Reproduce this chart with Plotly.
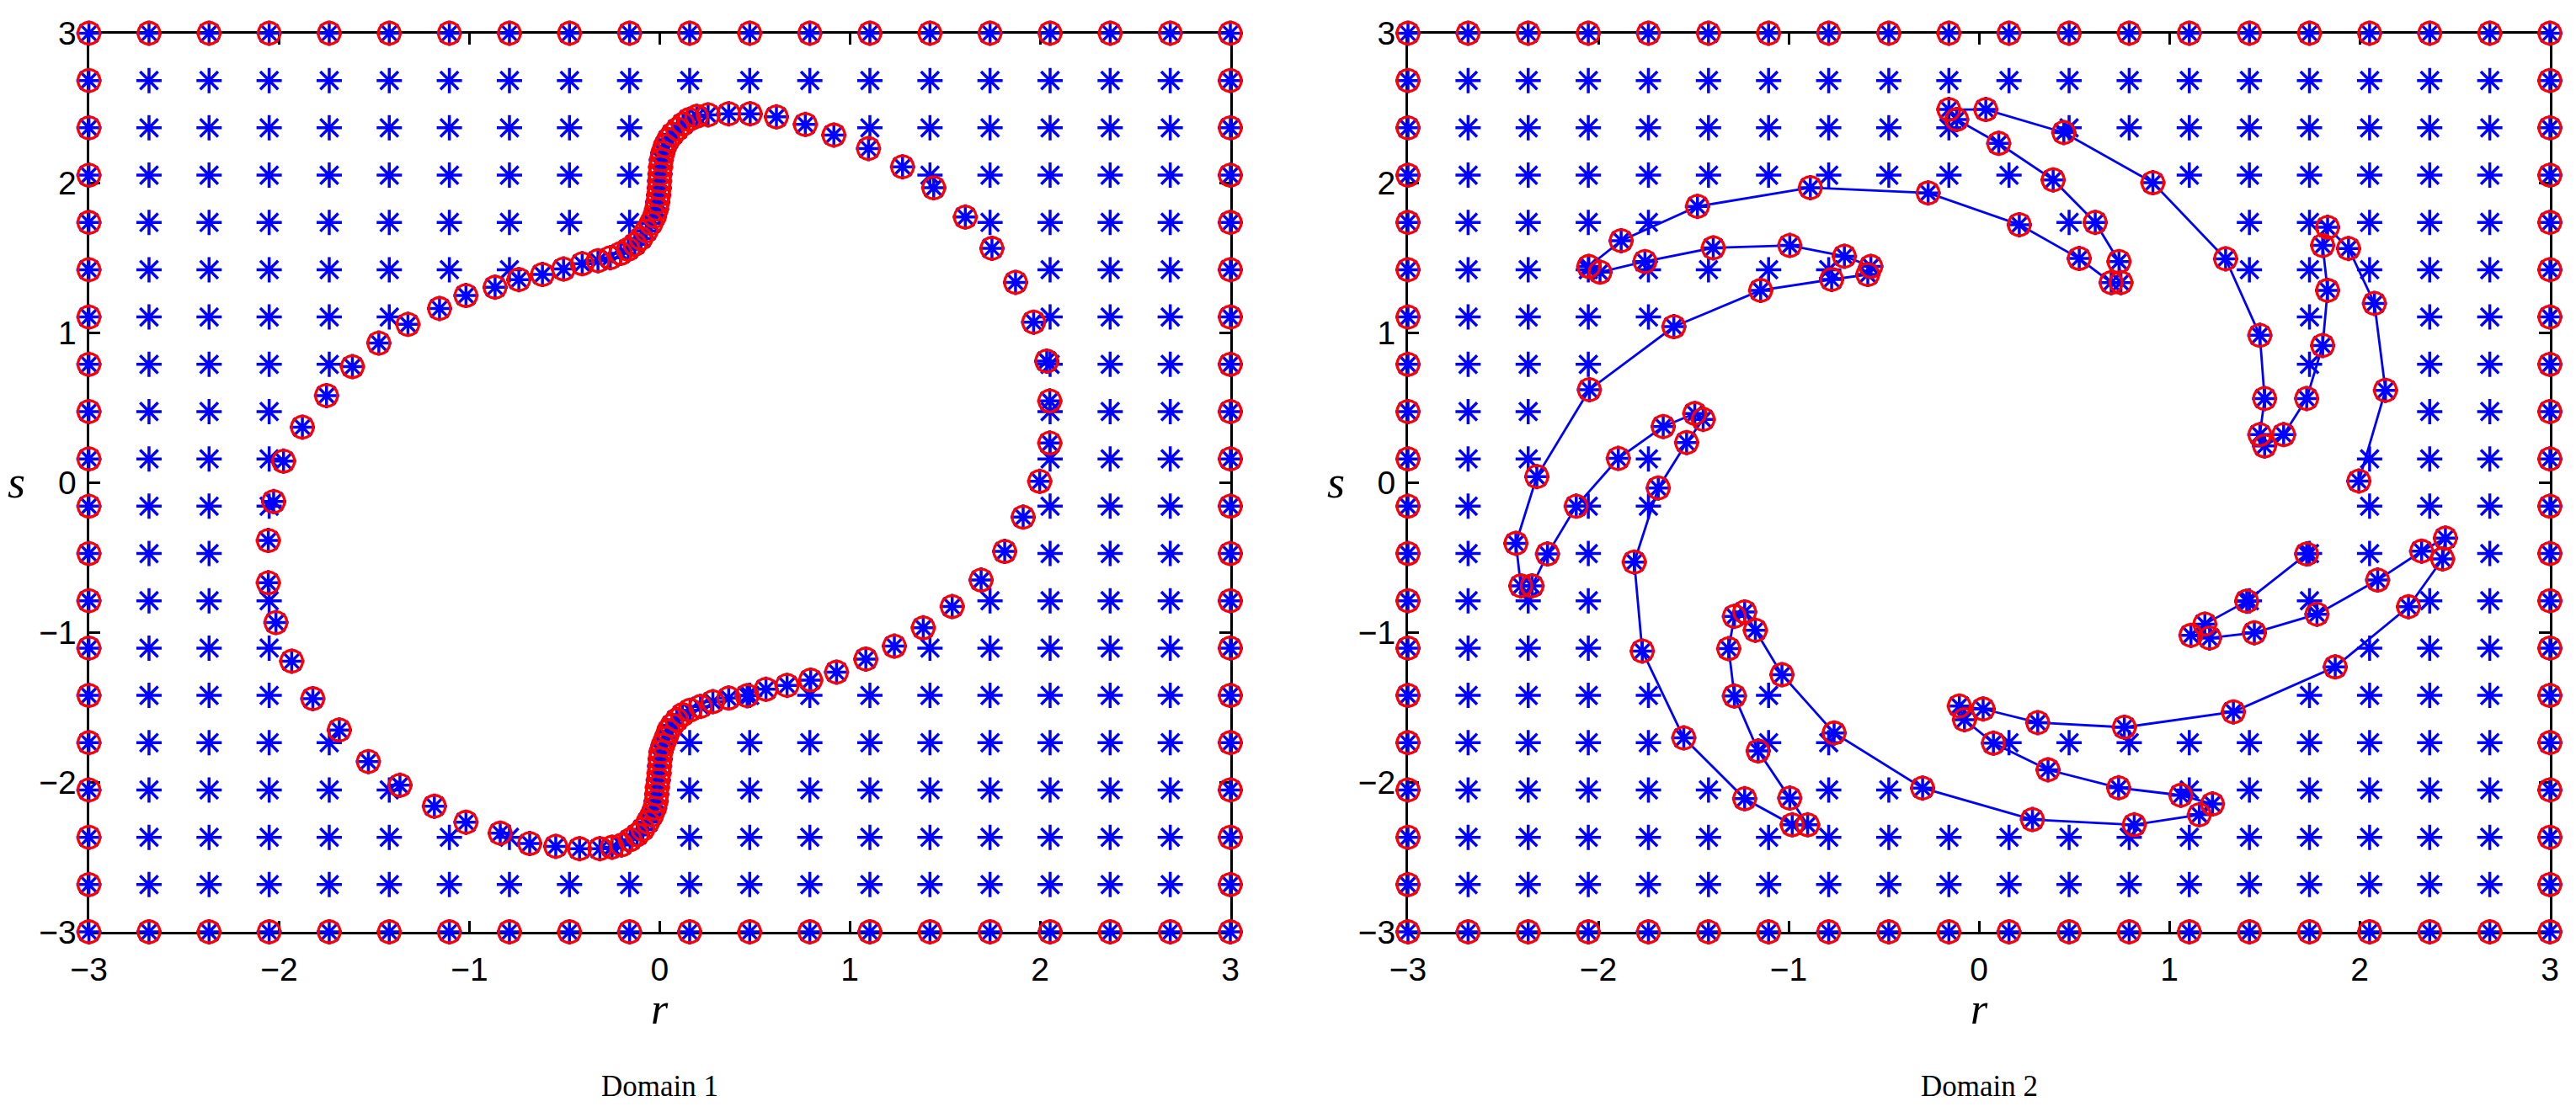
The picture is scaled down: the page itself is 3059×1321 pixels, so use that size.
import numpy as np
import plotly.graph_objects as go

# ---------------- data ----------------
grid_vals = [-3.0, -2.6842, -2.3684, -2.0526, -1.7368, -1.4211, -1.1053, -0.7895, -0.4737, -0.1579,
             0.1579, 0.4737, 0.7895, 1.1053, 1.4211, 1.7368, 2.0526, 2.3684, 2.6842, 3.0]
tick_vals = [-3, -2, -1, 0, 1, 2, 3]

curve1_r = [-1.977, -1.878, -1.751, -1.615, -1.476, -1.323, -1.157, -1.018, -0.865, -0.740,
            -0.616, -0.505, -0.407, -0.324, -0.259,
            -0.205, -0.165, -0.130, -0.098, -0.070, -0.045, -0.027, -0.016, -0.010, -0.005,
            -0.002, 0.000, 0.002, 0.005, 0.009, 0.017, 0.029, 0.046, 0.068, 0.094,
            0.123, 0.155, 0.195, 0.255,
            0.363, 0.476, 0.614, 0.766, 0.916, 1.098, 1.277, 1.441, 1.607, 1.747,
            1.871, 1.966, 2.035, 2.051, 2.051, 1.998,
            1.911, 1.814, 1.690, 1.538, 1.386, 1.234, 1.084, 0.930, 0.794, 0.670,
            0.559, 0.460, 0.363, 0.280, 0.215,
            0.160, 0.120, 0.090, 0.066, 0.047, 0.033, 0.018, 0.007, 0.003, 0.000,
            -0.003, -0.007, -0.012, -0.015, -0.018, -0.026, -0.041, -0.062, -0.088, -0.118,
            -0.155, -0.200, -0.250,
            -0.314, -0.421, -0.546, -0.683, -0.838, -1.018, -1.184, -1.365, -1.531, -1.684,
            -1.823, -1.934, -2.017, -2.057, -2.057, -2.029]
curve1_s = [0.143, 0.370, 0.581, 0.774, 0.931, 1.056, 1.162, 1.249, 1.304, 1.355,
            1.389, 1.426, 1.461, 1.481, 1.501,
            1.530, 1.558, 1.590, 1.630, 1.680, 1.730, 1.778, 1.826, 1.873, 1.920,
            1.967, 2.013, 2.060, 2.107, 2.154, 2.201, 2.248, 2.289, 2.326, 2.360,
            2.394, 2.424, 2.445, 2.455,
            2.462, 2.462, 2.442, 2.391, 2.320, 2.230, 2.108, 1.968, 1.773, 1.564,
            1.337, 1.071, 0.811, 0.545, 0.264, 0.008,
            -0.231, -0.460, -0.651, -0.828, -0.970, -1.092, -1.179, -1.266, -1.319, -1.354,
            -1.380, -1.423, -1.439, -1.463, -1.495,
            -1.520, -1.550, -1.585, -1.621, -1.659, -1.706, -1.753, -1.799, -1.846, -1.893,
            -1.940, -1.987, -2.034, -2.081, -2.127, -2.174, -2.221, -2.268, -2.315, -2.352,
            -2.385, -2.420, -2.435,
            -2.445, -2.445, -2.429, -2.410, -2.341, -2.268, -2.161, -2.021, -1.863, -1.652,
            -1.443, -1.193, -0.935, -0.669, -0.387, -0.127]

curve2_r = [1.722, 1.407, 1.187, 1.114, 1.212, 1.447, 1.776, 2.095, 2.326, 2.451,
            2.436, 2.257, 1.872, 1.337, 0.764, 0.309, 0.022, -0.103, -0.076, 0.076,
            0.363, 0.734, 1.061, 1.227, 1.158, 0.816, 0.281, -0.296, -0.761, -1.035,
            -1.175, -1.231, -1.285, -1.315, -1.285, -1.160, -0.994, -0.900, -0.981, -1.231,
            -1.551, -1.769, -1.811, -1.685, -1.536, -1.449, -1.493, -1.659, -1.895, -2.116,
            -2.267, -2.348, -2.407, -2.433, -2.323, -2.047, -1.603, -1.147, -0.774, -0.584,
            -0.568, -0.707, -0.994, -1.396, -1.755, -1.991, -2.050, -1.880, -1.479, -0.886,
            -0.267, 0.212, 0.527, 0.695, 0.746, 0.736, 0.611, 0.390, 0.104, -0.117,
            -0.158, 0.036, 0.446, 0.914, 1.296, 1.476, 1.501, 1.476, 1.501, 1.601,
            1.722, 1.806, 1.832, 1.806, 1.832, 1.942, 2.078, 2.136, 1.996]
curve2_s = [-0.477, -0.792, -0.945, -1.020, -1.038, -1.003, -0.879, -0.651, -0.458, -0.371,
            -0.510, -0.829, -1.231, -1.531, -1.634, -1.603, -1.512, -1.492, -1.583, -1.740,
            -1.918, -2.038, -2.088, -2.146, -2.218, -2.285, -2.250, -2.040, -1.672, -1.283,
            -0.986, -0.864, -0.893, -1.109, -1.425, -1.792, -2.107, -2.285, -2.285, -2.111,
            -1.705, -1.125, -0.531, -0.036, 0.267, 0.422, 0.461, 0.374, 0.161, -0.158,
            -0.477, -0.690, -0.690, -0.406, 0.040, 0.620, 1.041, 1.283, 1.356, 1.389,
            1.443, 1.511, 1.583, 1.567, 1.476, 1.405, 1.443, 1.615, 1.844, 1.969,
            1.934, 1.722, 1.496, 1.335, 1.335, 1.476, 1.737, 2.021, 2.265, 2.424,
            2.491, 2.491, 2.337, 2.002, 1.494, 0.983, 0.561, 0.320, 0.244, 0.320,
            0.561, 0.915, 1.283, 1.583, 1.704, 1.563, 1.196, 0.616, 0.010]

panel_titles = ["Domain 1", "Domain 2"]


# ---------------- helpers ----------------
def inside_polygon(px, py, vx, vy):
    px = np.asarray(px, float)
    py = np.asarray(py, float)
    vx = np.asarray(vx, float)
    vy = np.asarray(vy, float)
    res = np.zeros(px.shape, dtype=bool)
    n = len(vx)
    j = n - 1
    for i in range(n):
        xi, yi, xj, yj = vx[i], vy[i], vx[j], vy[j]
        cond = (yi > py) != (yj > py)
        with np.errstate(divide="ignore", invalid="ignore"):
            xcross = (xj - xi) * (py - yi) / (yj - yi) + xi
        res ^= cond & (px < xcross)
        j = i
    return res


G_r, G_s = np.meshgrid(grid_vals, grid_vals)
gr = G_r.ravel()
gs = G_s.ravel()
on_boundary = (np.abs(gr) >= 2.9999) | (np.abs(gs) >= 2.9999)

BLUE = "rgb(0,0,255)"
RED = "rgb(255,0,0)"
ast_marker = dict(symbol="asterisk-open", size=25, color=BLUE, line=dict(color=BLUE, width=3.5))
circ_marker = dict(symbol="circle-open", size=26, color=RED, line=dict(color=RED, width=3.3))

fig = go.Figure()
curves = [(curve1_r, curve1_s, False), (curve2_r, curve2_s, True)]
for k, (cr, cs, draw_line) in enumerate(curves):
    xa = "x" if k == 0 else "x2"
    ya = "y" if k == 0 else "y2"
    visible = ~inside_polygon(gr, gs, cr, cs)
    if draw_line:
        fig.add_trace(go.Scatter(x=cr, y=cs, mode="lines", line=dict(color=BLUE, width=2.8),
                                 xaxis=xa, yaxis=ya, cliponaxis=False, showlegend=False,
                                 hoverinfo="skip"))
    ax_x = np.concatenate([gr[visible], np.asarray(cr)])
    ax_y = np.concatenate([gs[visible], np.asarray(cs)])
    fig.add_trace(go.Scatter(x=ax_x, y=ax_y, mode="markers", marker=ast_marker,
                             xaxis=xa, yaxis=ya, cliponaxis=False, showlegend=False))
    rc_x = np.concatenate([gr[on_boundary], np.asarray(cr)])
    rc_y = np.concatenate([gs[on_boundary], np.asarray(cs)])
    fig.add_trace(go.Scatter(x=rc_x, y=rc_y, mode="markers", marker=circ_marker,
                             xaxis=xa, yaxis=ya, cliponaxis=False, showlegend=False))

W, H = 3059, 1321
x1 = (105.6, 1461.0)
x2 = (1672.0, 3028.0)
ytop, ybot = 39.5, 1107.0

axis_common = dict(
    range=[-3, 3], tickvals=tick_vals, ticks="inside", ticklen=13, tickwidth=3,
    tickcolor="black", showline=True, linecolor="black", linewidth=3, mirror="ticks",
    showgrid=False, zeroline=False, layer="below traces", automargin=False,
    tickfont=dict(family="Liberation Sans, Arial, sans-serif", size=39, color="black"),
)

fig.update_layout(
    template="none",
    width=W, height=H,
    margin=dict(l=0, r=0, t=0, b=0, pad=0),
    paper_bgcolor="white", plot_bgcolor="white",
    showlegend=False,
    xaxis=dict(domain=[x1[0] / W, x1[1] / W], anchor="y", ticklabelstandoff=8, **axis_common),
    yaxis=dict(domain=[1 - ybot / H, 1 - ytop / H], anchor="x", ticklabelstandoff=4, **axis_common),
    xaxis2=dict(domain=[x2[0] / W, x2[1] / W], anchor="y2", ticklabelstandoff=8, **axis_common),
    yaxis2=dict(domain=[1 - ybot / H, 1 - ytop / H], anchor="x2", ticklabelstandoff=4, **axis_common),
)

serif = "Liberation Serif, Times New Roman, serif"
ann = []
for k, (xl, xr) in enumerate([x1, x2]):
    cx = (xl + xr) / 2
    ann.append(dict(x=cx / W, y=1 - 1198 / H, xref="paper", yref="paper", text="<i>r</i>",
                    showarrow=False, font=dict(family=serif, size=52, color="black"),
                    xanchor="center", yanchor="middle"))
    ann.append(dict(x=(xl - 86) / W, y=1 - 573 / H, xref="paper", yref="paper", text="<i>s</i>",
                    showarrow=False, font=dict(family=serif, size=54, color="black"),
                    xanchor="center", yanchor="middle"))
    ann.append(dict(x=cx / W, y=1 - 1290 / H, xref="paper", yref="paper", text=panel_titles[k],
                    showarrow=False, font=dict(family=serif, size=35, color="black"),
                    xanchor="center", yanchor="middle"))
fig.update_layout(annotations=ann)

fig.write_html("out.html", config={"displayModeBar": False},
               post_script="document.body.style.margin='0';")
